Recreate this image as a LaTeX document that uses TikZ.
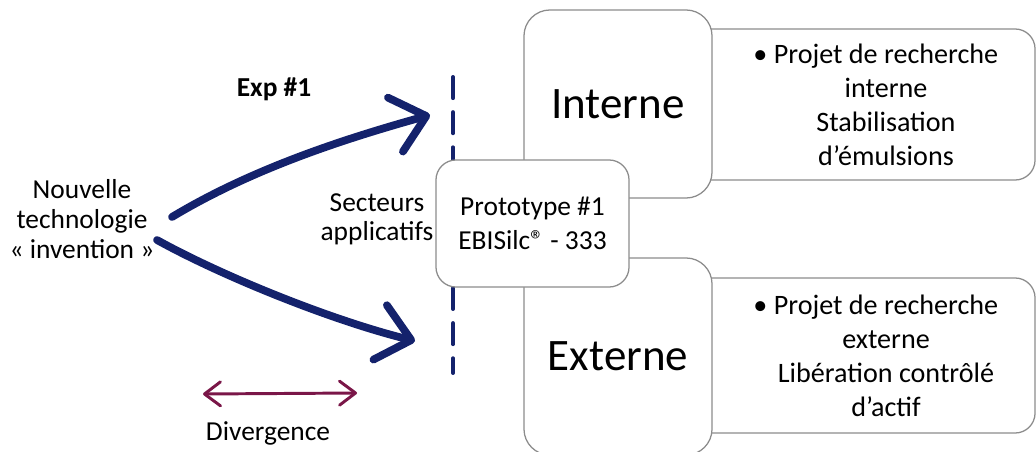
\documentclass[tikz,border=0pt]{standalone}
\usepackage{fontspec}
\setmainfont{Carlito}
\usetikzlibrary{arrows.meta,positioning}
\definecolor{arrownavy}{RGB}{20, 34, 108}
\definecolor{divmaroon}{RGB}{122, 22, 72}
\definecolor{boxgray}{RGB}{140, 140, 140}

\begin{document}
\begin{tikzpicture}[
    x=0.025cm, y=-0.025cm,
    label/.style={
      align=center,
      inner sep=0pt,
      font=\fontsize{19.5}{21.3}\selectfont
    },
    bigbox/.style={
      rectangle,
      rounded corners=0.65cm,
      draw=boxgray,
      line width=0.9pt,
      fill=white,
      minimum width=4.7cm,
      minimum height=4.7cm,
      font=\fontsize{32}{38}\selectfont
    },
    detail/.style={
      rectangle,
      rounded corners=0.5cm,
      draw=boxgray,
      line width=0.9pt,
      fill=white,
      minimum width=8.625cm,
      minimum height=3.775cm
    },
    detailtext/.style={
      align=center,
      inner sep=0pt,
      font=\fontsize{20}{24.2}\selectfont
    },
    proto/.style={
      rectangle,
      rounded corners=0.5cm,
      draw=boxgray,
      line width=0.9pt,
      fill=white,
      minimum width=4.825cm,
      minimum height=3.175cm,
      align=center,
      font=\fontsize{19.5}{24}\selectfont
    },
    dashline/.style={arrownavy, line width=2.8pt, dash pattern=on 15pt off 10pt, line cap=round},
    bluearrow/.style={-{Straight Barb[length=0.8cm, width=1.4cm, round]}, line width=5.5pt, arrownavy, line cap=round},
    divarrow/.style={{Straight Barb[length=0.4cm, width=0.6cm, round]}-{Straight Barb[length=0.4cm, width=0.6cm, round]}, line width=2.1pt, divmaroon, line cap=round}
  ]
    \useasboundingbox (0,0) rectangle (1036,452);

    \node[detail] (idetail) at (862.5,104.5) {};
    \node[detail, minimum height=3.875cm] (edetail) at (862.5,355.5) {};
    \node[bigbox] (interne) at (618,104) {Interne};
    \node[bigbox, minimum height=4.925cm] (externe) at (618,356.5) {Externe};
    \node[detailtext] (itext) at (886,104.5) {\llap{\textbullet\ }Projet de recherche\\interne\\Stabilisation\\d’émulsions};
    \node[detailtext] (etext) at (886,355.5) {\llap{\textbullet\ }Projet de recherche\\externe\\Libération contrôlé\\d’actif};

    \coordinate (dash0) at (453,77);
    \coordinate (dash1) at (453,373);
    \draw[dashline] (dash0) -- (dash1);

    \node[proto] (prototype) at (532.5,223.5) {Prototype \#1\\EBISilc® - 333};

    \node[label] (nouvelle) at (82,219) {Nouvelle\\technologie\\« invention »};
    \node[label, font=\fontsize{19.5}{20.6}\selectfont] (secteurs) at (377,219) {Secteurs\\applicatifs};
    \node[label, font=\fontsize{19.5}{21.3}\selectfont\bfseries] (exp) at (274,89) {Exp \#1};
    \node[label] (divergence) at (268,433) {Divergence};

    \coordinate (up0) at (172,217);
    \coordinate (up1) at (430,115);
    \coordinate (down0) at (157,240);
    \coordinate (down1) at (415,341);
    \coordinate (div0) at (203,394);
    \coordinate (div1) at (357,393);

    \draw[bluearrow] (up0) .. controls (250,170) and (340,140) .. (up1);
    \draw[bluearrow] (down0) .. controls (220,275) and (330,320) .. (down1);
    \draw[divarrow] (div0) -- (div1);
  \end{tikzpicture}
\end{document}
